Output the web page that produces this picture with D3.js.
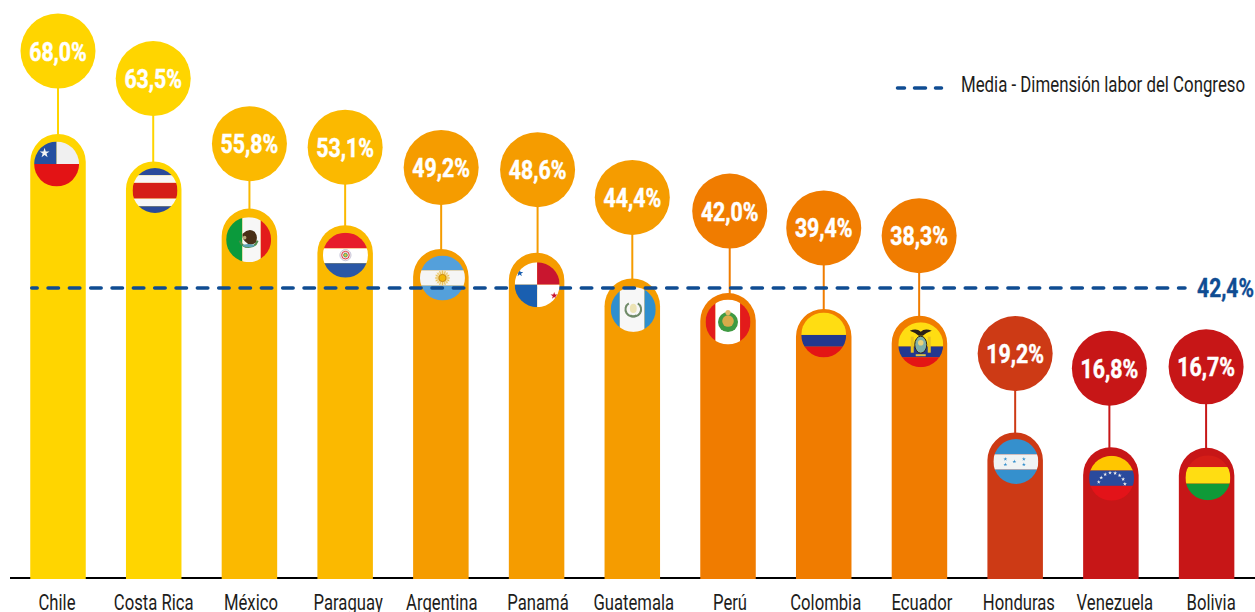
<!doctype html>
<meta charset="utf-8">
<title>Dimensión labor del Congreso</title>
<style>
    html, body { margin: 0; background: white; }
    svg { display: block; }
    text { font-family: Roboto, sans-serif; }
</style>
<svg width="1255" height="612"></svg>
<script src="https://d3js.org/d3.v7.min.js"></script>
<script>
    // data
    var countries = ['Chile', 'Costa Rica', 'México', 'Paraguay', 'Argentina', 'Panamá', 'Guatemala', 'Perú', 'Colombia', 'Ecuador', 'Honduras', 'Venezuela', 'Bolivia'];
    var values = [68.0, 63.5, 55.8, 53.1, 49.2, 48.6, 44.4, 42.0, 39.4, 38.3, 19.2, 16.8, 16.7];
    var valueLabels = ['68,0%', '63,5%', '55,8%', '53,1%', '49,2%', '48,6%', '44,4%', '42,0%', '39,4%', '38,3%', '19,2%', '16,8%', '16,7%'];
    var meanValue = 42.4;
    var meanLabel = '42,4%';
    var legendLabel = 'Media - Dimensión labor del Congreso';

    // styling
    var barColors = ['#ffd500', '#ffd500', '#fbb900', '#fbb900', '#f59c00', '#f59c00', '#f59c00', '#f07c00', '#f07c00', '#f07c00', '#cd3a15', '#c71617', '#c71617'];
    var stemLengths = [83, 83, 65, 78, 81.5, 83, 81, 82, 81, 80, 79, 79, 81]; // bar top to bubble centre
    var stemDx = [0, -0.5, 0, 0, 0.3, 1, 0, 1.7, 0, -0.3, 0, -1.5, -0.5];
    var flagDx = [-1.4, 1.3, -0.8, 0.3, 1.6, 0.6, 1, 0, 0, 1.3, 0.7, 0.7, 1.3];
    var flagDy = [30, 29, 31, 30, 29, 32, 31, 29, 26, 29, 29, 31, 30];
    var labelDx = [-1, 0, 1.5, 3, 1, 1.5, 1.5, 2, 2, 2.5, 3.7, 4, 4.5];
    var blue = '#0f4c92';

    var barWidth = 55.5;
    var baseline = 579;
    var bubbleR = 37.5;
    var flagR = 22.5;

    var svg = d3.select('svg');
    var x = d3.scalePoint().domain(countries).range([58, 1206.6]);
    var y = d3.scaleLinear().domain([0, 68]).range([550, 134]);

    // axis line sits under the bars
    svg.append('line')
        .attr('x1', 10).attr('x2', 1255)
        .attr('y1', 578).attr('y2', 578)
        .attr('stroke', '#000').attr('stroke-width', 2);

    function barPath(d, i) {
        var cx = x(countries[i]);
        var r = barWidth / 2;
        var top = y(d);
        var p = d3.path();
        p.moveTo(cx - r, baseline);
        p.lineTo(cx - r, top + r);
        p.arc(cx, top + r, r, Math.PI, 0);
        p.lineTo(cx + r, baseline);
        p.closePath();
        return p.toString();
    }

    svg.append('g').selectAll('path')
        .data(values)
        .enter().append('path')
        .attr('d', barPath)
        .attr('fill', function (d, i) { return barColors[i]; });

    function stemX(d, i) {
        return x(countries[i]) + stemDx[i];
    }

    svg.append('g').selectAll('line')
        .data(values)
        .enter().append('line')
        .attr('x1', stemX)
        .attr('x2', stemX)
        .attr('y1', function (d) { return y(d) + 1; })
        .attr('y2', function (d, i) { return y(d) - stemLengths[i]; })
        .attr('stroke', function (d, i) { return barColors[i]; })
        .attr('stroke-width', 2);

    var bubble = svg.append('g').selectAll('g')
        .data(values)
        .enter().append('g')
        .attr('transform', function (d, i) {
            return 'translate(' + stemX(d, i) + ',' + (y(d) - stemLengths[i]) + ')';
        });

    bubble.append('circle')
        .attr('r', bubbleR)
        .attr('fill', function (d, i) { return barColors[i]; });

    bubble.append('text')
        .attr('transform', 'translate(0,9.5) scale(0.82,1)')
        .attr('text-anchor', 'middle')
        .attr('font-size', 26)
        .attr('font-weight', 700)
        .attr('fill', '#fff')
        .attr('stroke', '#fff')
        .attr('stroke-width', 0.5)
        .text(function (d, i) { return valueLabels[i]; });

    // flags, in a box of -1..1 clipped to a circle
    function hBands(stops, colors) {
        return colors.map(function (c, i) {
            return [0, i ? stops[i - 1] : 0, 1, i < stops.length ? stops[i] : 1, c];
        });
    }

    function vBands(stops, colors) {
        return colors.map(function (c, i) {
            return [i ? stops[i - 1] : 0, 0, i < stops.length ? stops[i] : 1, 1, c];
        });
    }

    var flagRects = {
        'Chile': [[0, 0, 0.5, 0.5, '#2450a0'], [0.5, 0, 1, 0.5, '#f0f0f0'], [0, 0.5, 1, 1, '#e31315']],
        'Costa Rica': hBands([0.16, 0.33, 0.68, 0.85], ['#2a4a9a', '#f7f7f7', '#d51f17', '#f7f7f7', '#2a4a9a']),
        'México': vBands([0.36, 0.77], ['#0b9a3c', '#f7f7f7', '#e31b1b']),
        'Paraguay': hBands([0.35, 0.68], ['#e71d2b', '#ffffff', '#2a57a5']),
        'Argentina': hBands([0.33, 0.67], ['#54a0db', '#f5f5f5', '#54a0db']),
        'Panamá': [[0, 0, 0.5, 0.5, '#ffffff'], [0.5, 0, 1, 0.5, '#c9162f'], [0, 0.5, 0.5, 1, '#1a5fb0'], [0.5, 0.5, 1, 1, '#ffffff']],
        'Guatemala': vBands([0.2, 0.75], ['#2f8fce', '#f7f7f7', '#2f8fce']),
        'Perú': vBands([0.22, 0.77], ['#e31b1b', '#ffffff', '#e31b1b']),
        'Colombia': hBands([0.5, 0.76], ['#ffdd12', '#22388f', '#e31515']),
        'Ecuador': hBands([0.54, 0.78], ['#ffdd12', '#22388f', '#e31515']),
        'Honduras': hBands([0.34, 0.68], ['#3590cd', '#f0f3f3', '#3590cd']),
        'Venezuela': hBands([0.33, 0.67], ['#ffc600', '#2a4a9c', '#e31319']),
        'Bolivia': hBands([0.26, 0.63], ['#d51d17', '#ffdd12', '#0f9a38'])
    };

    function dot(g, cx, cy, r, fill, stroke) {
        g.append('circle').attr('cx', cx).attr('cy', cy).attr('r', r)
            .attr('fill', fill || 'none')
            .attr('stroke', stroke || 'none');
    }

    function star(g, cx, cy, size, fill) {
        g.append('path')
            .attr('d', d3.symbol(d3.symbolStar, size))
            .attr('transform', 'translate(' + cx + ',' + cy + ')')
            .attr('fill', fill);
    }

    // small emblems on the flags, each drawn around the flag centre
    var emblems = {
        'Chile': function (g) { star(g, -12, -11, 30, '#f4f4f4'); },
        'México': function (g) {
            g.append('path').attr('d', 'M-9,1 A9.5,9.5 0 0 0 9,1').attr('fill', 'none').attr('stroke', '#4d8a4a').attr('stroke-width', 2);
            g.append('path').attr('d', 'M-6,-6 Q0,-12 6,-8 Q10,-3 7,3 Q1,7 -2,3 Q-7,0 -6,-6Z').attr('fill', '#4a2f17');
            g.append('ellipse').attr('cy', 6).attr('rx', 6).attr('ry', 1.6).attr('fill', '#5fa3b5');
            dot(g, -4, -2, 1.8, '#b9a77a');
        },
        'Paraguay': function (g) {
            dot(g, 0, 0, 5.6, '#f2e6e6', '#c9c9dc');
            dot(g, 0, 0, 3.8, 'none', '#e0414a');
            dot(g, 0, 0, 1.8, '#e8c23c', '#4f9a5a');
        },
        'Argentina': function (g) {
            dot(g, 0, 0, 7, '#f5e3b0');
            g.selectAll('line.ray').data(d3.range(16)).enter().append('line')
                .attr('x2', function (d) { return 7.5 * Math.cos(d * Math.PI / 8); })
                .attr('y2', function (d) { return 7.5 * Math.sin(d * Math.PI / 8); })
                .attr('stroke', '#e6bd55').attr('stroke-width', 0.9);
            dot(g, 0, 0, 3.6, '#f2b705', '#c98a12');
        },
        'Panamá': function (g) {
            star(g, -17.5, -11.5, 16, '#1a5fb0');
            star(g, 17, 11, 16, '#c9162f');
        },
        'Guatemala': function (g) {
            g.append('path').attr('d', 'M-4.5,-6 A7,7 0 0 0 3,6').attr('fill', 'none').attr('stroke', '#6f8a68').attr('stroke-width', 2);
            g.append('path').attr('d', 'M4.5,-6 A7,7 0 0 1 -3,6').attr('fill', 'none').attr('stroke', '#6f8a68').attr('stroke-width', 2);
            g.append('ellipse').attr('rx', 3.4).attr('ry', 4.6).attr('cy', -1).attr('fill', '#ece3b5');
        },
        'Perú': function (g) {
            dot(g, 0, 0, 10, '#3f9a42');
            dot(g, 0, -1, 5.8, '#d9ab4a');
            dot(g, 0, -9.5, 2.6, '#e3b96a');
        },
        'Ecuador': function (g) {
            g.append('path').attr('d', 'M-11,-14 Q-4,-17 0,-13 Q4,-17 11,-14 Q5,-12 2,-9 L-2,-9 Q-5,-12 -11,-14Z').attr('fill', '#2b2118');
            g.append('rect').attr('x', -10).attr('y', -8).attr('width', 3).attr('height', 16).attr('fill', '#e9c21f');
            g.append('rect').attr('x', 7).attr('y', -8).attr('width', 3).attr('height', 16).attr('fill', '#e9c21f');
            g.append('ellipse').attr('rx', 6).attr('ry', 8.5).attr('fill', '#7fb0a8').attr('stroke', '#2b2118').attr('stroke-width', 1);
            dot(g, 0, -2, 2.8, '#e9d37a');
            g.append('rect').attr('x', -5).attr('y', 9.5).attr('width', 10).attr('height', 2).attr('fill', '#d8c24a');
        },
        'Honduras': function (g) {
            [[-10.5, -2.5], [-10.5, 3], [-1.5, 0], [8, -2.5], [8, 3]].forEach(function (p) {
                star(g, p[0], p[1], 5, '#3590cd');
            });
        },
        'Venezuela': function (g) {
            d3.range(8).forEach(function (i) {
                var a = Math.PI * (1.04 + 0.0657 * 2 * (i + 0.5) * 0.92);
                star(g, 13.5 * Math.cos(a), 8 + 13.5 * Math.sin(a), 5, '#f0f0f0');
            });
        }
    };

    var defs = svg.append('defs');
    defs.append('clipPath').attr('id', 'flag-clip')
        .append('circle').attr('r', flagR);

    var flag = svg.append('g').selectAll('g')
        .data(countries)
        .enter().append('g')
        .attr('transform', function (d, i) {
            return 'translate(' + (x(d) + flagDx[i]) + ',' + (y(values[i]) + flagDy[i]) + ')';
        });

    var unit = d3.scaleLinear().domain([0, 1]).range([-flagR, flagR]);

    flag.each(function (d) {
        var g = d3.select(this).append('g').attr('clip-path', 'url(#flag-clip)');
        g.selectAll('rect')
            .data(flagRects[d])
            .enter().append('rect')
            .attr('x', function (r) { return unit(r[0]); })
            .attr('y', function (r) { return unit(r[1]); })
            .attr('width', function (r) { return unit(r[2]) - unit(r[0]); })
            .attr('height', function (r) { return unit(r[3]) - unit(r[1]); })
            .attr('fill', function (r) { return r[4]; });
        if (emblems[d]) emblems[d](g.append('g'));
    });

    // mean line, the bars' scale puts it about 2.5px low so nudge it
    var meanY = y(meanValue) - 2.5;
    svg.append('line')
        .attr('x1', 31.75).attr('x2', 1185)
        .attr('y1', meanY).attr('y2', meanY)
        .attr('stroke', blue)
        .attr('stroke-width', 3.5)
        .attr('stroke-linecap', 'round')
        .attr('stroke-dasharray', '10.5,10.83')
        .attr('stroke-dashoffset', 5.05);

    // the line runs over every flag but Panama's
    flag.filter(function (d) { return d === 'Panamá'; }).each(function () {
        svg.node().appendChild(this);
    });

    svg.append('text')
        .attr('transform', 'translate(1225.5,' + (meanY + 9) + ') scale(0.84,1)')
        .attr('text-anchor', 'middle')
        .attr('font-size', 25)
        .attr('font-weight', 700)
        .attr('fill', blue)
        .attr('stroke', blue)
        .attr('stroke-width', 0.4)
        .text(meanLabel);

    // legend
    var legendDashes = [[897.5, 904.5], [914.5, 925.5], [935.5, 941.5]];
    svg.append('g').selectAll('line')
        .data(legendDashes)
        .enter().append('line')
        .attr('x1', function (d) { return d[0]; })
        .attr('x2', function (d) { return d[1]; })
        .attr('y1', 88).attr('y2', 88)
        .attr('stroke', blue)
        .attr('stroke-width', 3.5)
        .attr('stroke-linecap', 'round');

    svg.append('text')
        .attr('transform', 'translate(961,92) scale(0.765,1)')
        .attr('font-size', 22)
        .attr('fill', '#1d1d1b')
        .text(legendLabel);

    // country names
    svg.append('g').selectAll('text')
        .data(countries)
        .enter().append('text')
        .attr('transform', function (d, i) {
            return 'translate(' + (x(d) + labelDx[i]) + ',610) scale(0.725,1)';
        })
        .attr('text-anchor', 'middle')
        .attr('font-size', 23)
        .attr('fill', '#1d1d1b')
        .text(function (d) { return d; });
</script>
